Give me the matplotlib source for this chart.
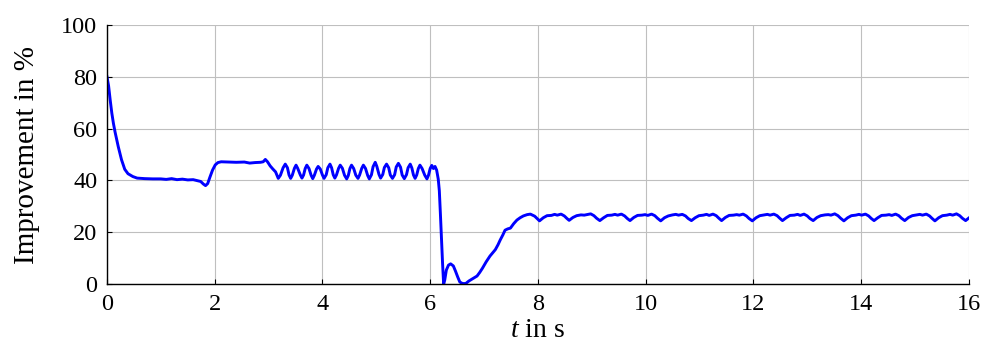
import matplotlib

matplotlib.use("Agg")
import matplotlib.pyplot as plt

plt.rcParams["font.family"] = ["Liberation Serif", "DejaVu Serif"]
plt.rcParams["mathtext.fontset"] = "custom"
plt.rcParams["mathtext.rm"] = "Liberation Serif"
plt.rcParams["mathtext.it"] = "Liberation Serif:italic"

# initial decay, first plateau and step up
t_start = [0.00, 0.03, 0.06, 0.09, 0.12, 0.15, 0.21, 0.27, 0.33, 0.39, 0.48, 0.56,
           0.70, 0.85, 1.00, 1.10, 1.20, 1.30, 1.40, 1.50, 1.60, 1.68, 1.74, 1.79,
           1.83, 1.87, 1.91, 1.96, 2.01, 2.06, 2.12, 2.25, 2.40, 2.55, 2.65, 2.75,
           2.85, 2.90, 2.94, 2.98, 3.03, 3.08, 3.13]
y_start = [80.0, 76.5, 71.0, 66.0, 62.0, 58.7, 53.0, 48.0, 44.3, 42.6, 41.5, 40.9,
           40.7, 40.6, 40.6, 40.4, 40.7, 40.3, 40.5, 40.2, 40.3, 39.9, 39.6, 38.6,
           38.0, 38.8, 41.2, 44.0, 46.0, 46.9, 47.2, 47.1, 47.0, 47.1, 46.7, 46.9,
           47.0, 47.2, 48.1, 47.2, 45.6, 44.4, 43.3]

# oscillating phase
t_osc = [3.18, 3.22, 3.27, 3.31, 3.35, 3.38, 3.41, 3.44, 3.48, 3.51, 3.54, 3.59,
         3.62, 3.65, 3.68, 3.71, 3.75, 3.79, 3.82, 3.85, 3.89, 3.92, 3.96, 4.00,
         4.03, 4.07, 4.10, 4.14, 4.17, 4.20, 4.23, 4.26, 4.30, 4.33, 4.37, 4.41,
         4.45, 4.48, 4.51, 4.54, 4.58, 4.62, 4.66, 4.69, 4.73, 4.76, 4.80, 4.84,
         4.87, 4.91, 4.94, 4.98, 5.01, 5.05, 5.08, 5.12, 5.15, 5.19, 5.23, 5.26,
         5.30, 5.34, 5.37, 5.41, 5.45, 5.48, 5.52, 5.56, 5.59, 5.63, 5.66, 5.69,
         5.72, 5.75, 5.78, 5.81, 5.85, 5.90, 5.94, 5.97, 6.00, 6.03, 6.06, 6.09,
         6.12]
y_osc = [40.8, 42.0, 44.9, 46.3, 44.9, 42.1, 40.8, 42.0, 44.7, 45.9, 44.7, 42.1,
         40.9, 42.1, 44.6, 45.9, 44.6, 42.0, 40.7, 42.0, 44.4, 45.4, 44.4, 42.1,
         40.8, 42.2, 44.9, 46.3, 44.9, 42.2, 40.9, 42.1, 44.7, 45.9, 44.7, 42.0,
         40.6, 41.9, 44.6, 45.9, 44.6, 42.0, 40.8, 42.1, 44.7, 45.9, 44.6, 41.9,
         40.6, 42.2, 45.3, 47.0, 45.4, 42.3, 40.9, 42.3, 45.0, 46.3, 44.9, 42.1,
         40.8, 42.2, 45.2, 46.6, 45.1, 42.1, 40.7, 42.2, 44.9, 46.3, 44.8, 42.1,
         40.8, 42.1, 44.6, 45.9, 44.6, 42.0, 40.6, 42.1, 44.6, 45.8, 44.6, 45.4,
         44.0]

# drop and recovery
t_drop = [6.15, 6.17, 6.19, 6.21, 6.23, 6.25, 6.27, 6.30, 6.34, 6.38, 6.43, 6.47,
          6.51, 6.55, 6.60, 6.66, 6.72, 6.80, 6.87, 6.92, 6.97, 7.04, 7.11, 7.17,
          7.21, 7.26, 7.30, 7.35, 7.39, 7.44, 7.49, 7.55, 7.61, 7.67, 7.73, 7.80,
          7.86, 7.94]
y_drop = [40.5, 36.0, 27.0, 17.0, 8.0, 0.0, 1.5, 5.4, 7.3, 7.8, 7.0, 5.0,
          2.8, 0.8, 0.2, 0.2, 1.2, 2.2, 3.1, 4.5, 6.1, 8.6, 10.8, 12.3,
          13.3, 15.2, 17.0, 19.0, 20.8, 21.3, 21.6, 23.3, 24.7, 25.6, 26.3, 26.8,
          27.0, 26.2]

# steady state
t_steady = [8.03, 8.10, 8.17, 8.25, 8.31, 8.36, 8.43, 8.49, 8.54,
            8.58, 8.65, 8.72, 8.80, 8.86, 8.91, 8.98, 9.04, 9.09,
            9.15, 9.22, 9.29, 9.37, 9.43, 9.48, 9.55, 9.61, 9.66,
            9.71, 9.78, 9.85, 9.93, 9.99, 10.04, 10.11, 10.17, 10.22,
            10.28, 10.35, 10.42, 10.50, 10.56, 10.61, 10.68, 10.74, 10.79,
            10.85, 10.92, 10.99, 11.07, 11.13, 11.18, 11.25, 11.31, 11.36,
            11.41, 11.48, 11.55, 11.63, 11.69, 11.74, 11.81, 11.87, 11.92,
            11.98, 12.05, 12.12, 12.20, 12.26, 12.31, 12.38, 12.44, 12.49,
            12.54, 12.61, 12.68, 12.76, 12.82, 12.87, 12.94, 13.00, 13.05,
            13.11, 13.18, 13.25, 13.33, 13.39, 13.44, 13.51, 13.57, 13.62,
            13.68, 13.75, 13.82, 13.90, 13.96, 14.01, 14.08, 14.14, 14.19,
            14.24, 14.31, 14.38, 14.46, 14.52, 14.57, 14.64, 14.70, 14.75,
            14.81, 14.88, 14.95, 15.03, 15.09, 15.14, 15.21, 15.27, 15.32,
            15.37, 15.44, 15.51, 15.59, 15.65, 15.70, 15.77, 15.83, 15.88,
            15.94, 16.00]
y_steady = [24.4, 25.6, 26.4, 26.5, 26.9, 26.6, 27.0, 26.3, 25.3,
            24.6, 25.7, 26.4, 26.7, 26.6, 26.8, 27.1, 26.4, 25.4,
            24.5, 25.6, 26.5, 26.6, 26.9, 26.6, 27.0, 26.3, 25.3,
            24.5, 25.7, 26.5, 26.6, 26.8, 26.5, 27.0, 26.4, 25.4,
            24.4, 25.6, 26.3, 26.7, 26.9, 26.6, 26.9, 26.3, 25.3,
            24.5, 25.6, 26.4, 26.6, 26.9, 26.5, 27.0, 26.4, 25.4,
            24.5, 25.7, 26.5, 26.6, 26.8, 26.6, 27.0, 26.3, 25.3,
            24.4, 25.6, 26.4, 26.7, 26.9, 26.6, 27.0, 26.4, 25.4,
            24.5, 25.6, 26.5, 26.6, 26.9, 26.5, 27.0, 26.3, 25.3,
            24.5, 25.7, 26.4, 26.7, 26.8, 26.6, 27.1, 26.4, 25.4,
            24.4, 25.6, 26.4, 26.6, 26.9, 26.6, 27.0, 26.3, 25.3,
            24.5, 25.6, 26.5, 26.6, 26.8, 26.5, 27.0, 26.4, 25.4,
            24.5, 25.7, 26.4, 26.7, 26.9, 26.6, 27.0, 26.3, 25.3,
            24.4, 25.6, 26.4, 26.6, 26.9, 26.6, 27.1, 26.4, 25.4,
            24.5, 25.5]

x_ticks = [0, 2, 4, 6, 8, 10, 12, 14, 16]
y_ticks = [0, 20, 40, 60, 80, 100]

t_all = t_start + t_osc + t_drop + t_steady
y_all = y_start + y_osc + y_drop + y_steady

fig = plt.figure(figsize=(9.85, 3.52), dpi=100)
ax = fig.add_axes([0.1086, 0.193, 0.875, 0.736])

ax.plot(t_all, y_all, color="#0000ff", linewidth=2.1, solid_joinstyle="round", zorder=3)

ax.set_xlim(0, 16)
ax.set_ylim(0, 100)
ax.set_xticks(x_ticks)
ax.set_yticks(y_ticks)
ax.grid(True, color="#bfbfbf", linewidth=0.8)
ax.set_axisbelow(True)

for side in ["top", "right"]:
    ax.spines[side].set_visible(False)
for side in ["left", "bottom"]:
    ax.spines[side].set_linewidth(1.0)
    ax.spines[side].set_zorder(4)

ax.tick_params(direction="in", length=3.5, width=0.8, labelsize=17.5, pad=7)

ax.set_xlabel("$t$ in s", fontsize=20, labelpad=2)
ax.set_ylabel("Improvement in %", fontsize=21, labelpad=15)

fig.savefig("out.png", dpi=100)
